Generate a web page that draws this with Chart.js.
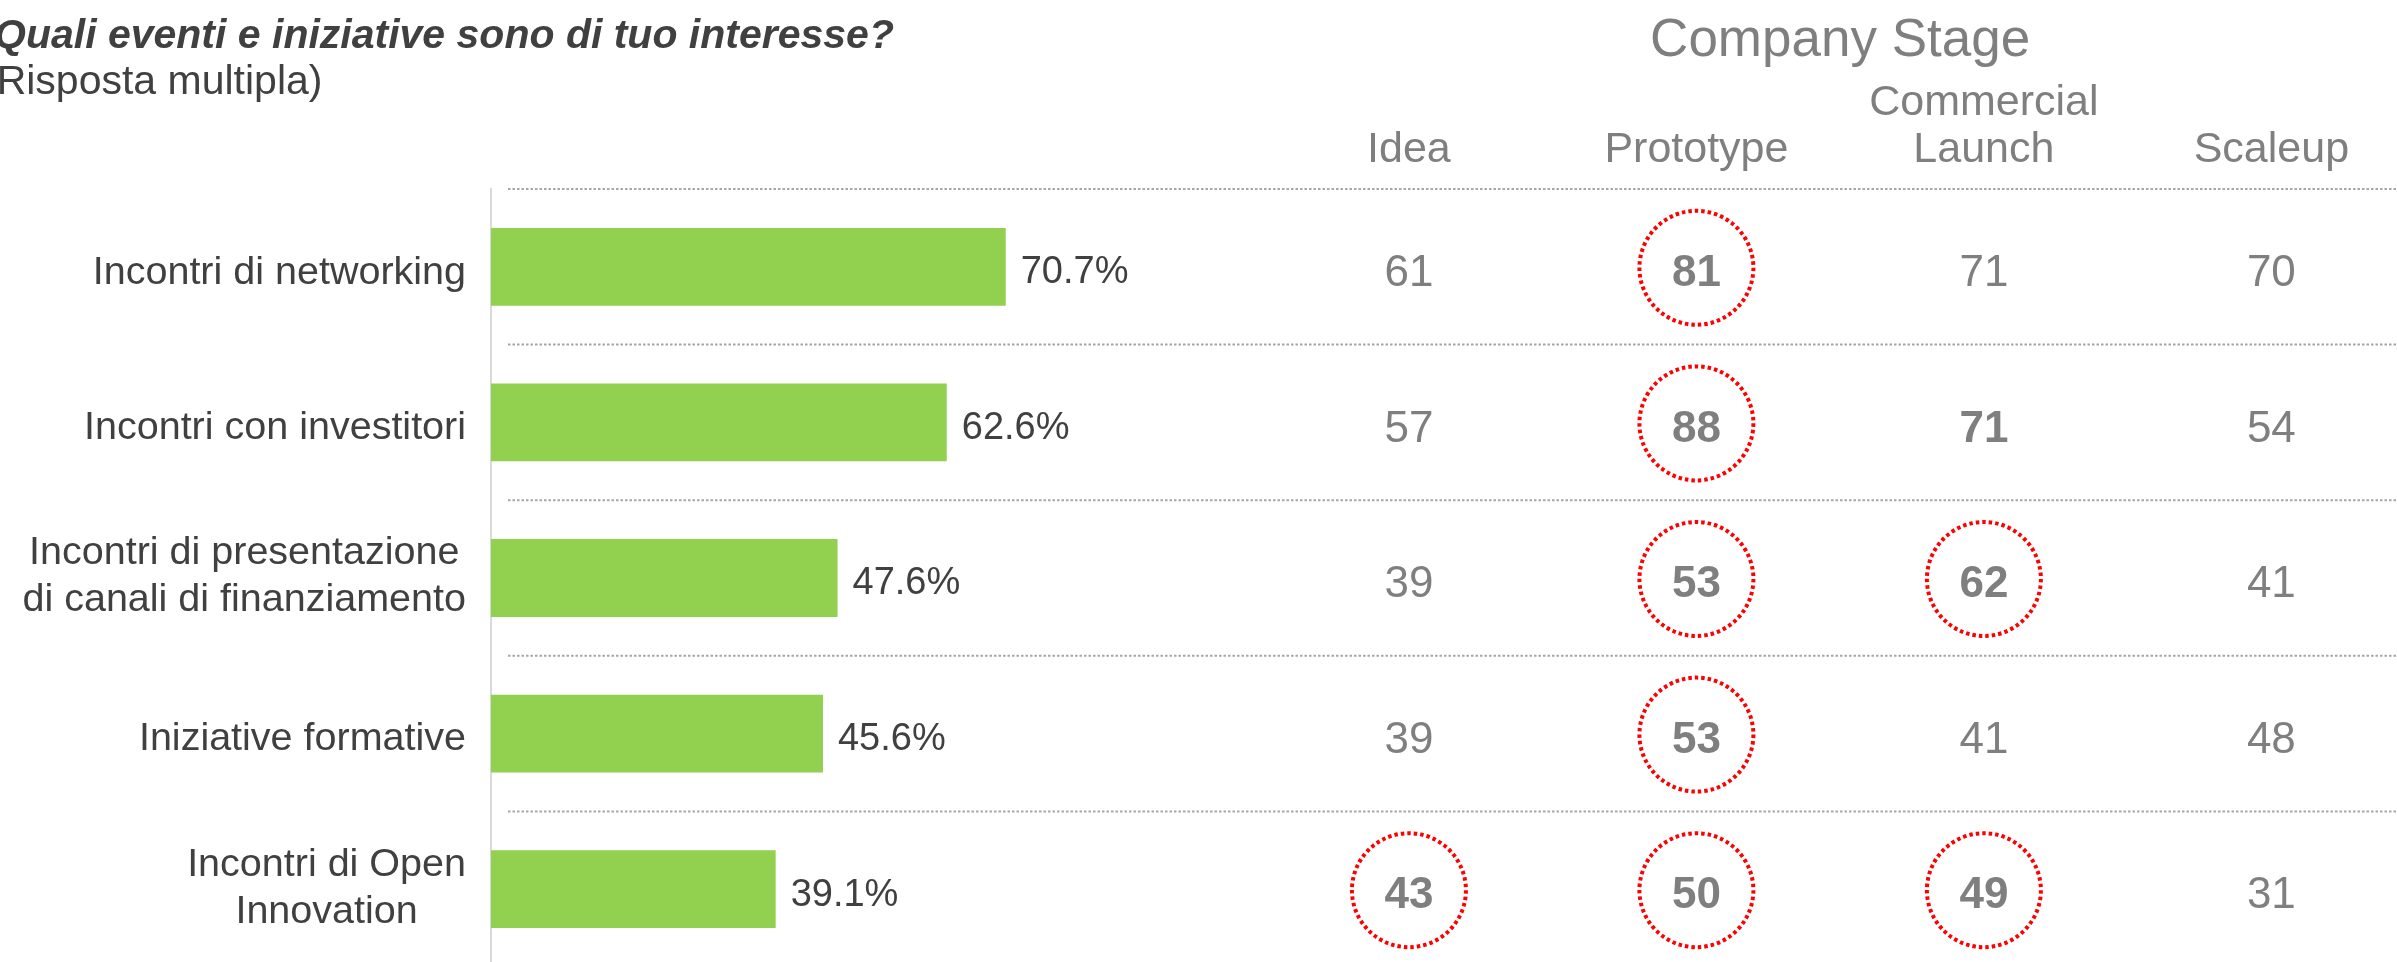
<!DOCTYPE html>
<html lang="it">
<head>
<meta charset="utf-8">
<title>Eventi e iniziative di interesse</title>
<script src="https://cdn.jsdelivr.net/npm/chart.js@4.4.1/dist/chart.umd.min.js"></script>
<style>
  html, body { margin: 0; padding: 0; background: #fff; overflow: hidden; }
  #chart { display: block; }
</style>
</head>
<body>
<canvas id="chart" width="2397" height="967"></canvas>
<script>
// --- data ---
const categories = [
  ["Incontri di networking"],
  ["Incontri con investitori"],
  ["Incontri di presentazione", "di canali di finanziamento"],
  ["Iniziative formative"],
  ["Incontri di Open", "Innovation"],
];
const shares = [70.7, 62.6, 47.6, 45.6, 39.1];

const stages = ["Idea", "Prototype", ["Commercial", "Launch"], "Scaleup"];
const idea = [61, 57, 39, 39, 43];
const prototype = [81, 88, 53, 53, 50];
const commercial = [71, 71, 62, 41, 49];
const scaleup = [70, 54, 41, 48, 31];
const stageValues = [idea, prototype, commercial, scaleup];

// [row, column] cells circled in red, and the one only set in bold
const circled = [[0, 1], [1, 1], [2, 1], [2, 2], [3, 1], [4, 0], [4, 1], [4, 2]];
const boldOnly = [[1, 2]];

const title = "Quali eventi e iniziative sono di tuo interesse?";
const subtitle = "(Risposta multipla)";
const stageTitle = "Company Stage";

const FONT = "'Liberation Sans', Arial, sans-serif";
const DARK = "#404040";
const GREY = "#7f7f7f";
Chart.defaults.font.family = FONT;

const font = (size, weight = "normal", style = "normal") => `${style} ${weight} ${size}px ${FONT}`;
const has = (list, r, c) => list.some(([a, b]) => a === r && b === c);

const tablePlugin = {
  id: "stageTable",
  beforeDatasetsDraw(chart) {
    const { ctx, chartArea, scales: { y } } = chart;
    const band = y.getPixelForValue(1) - y.getPixelForValue(0);
    ctx.save();
    ctx.strokeStyle = "#a6a6a6";
    ctx.lineWidth = 2;
    ctx.setLineDash([2.5, 2]);
    for (let i = 0; i <= categories.length; i++) {
      const py = y.getPixelForValue(i) - band / 2;
      ctx.beginPath();
      ctx.moveTo(chartArea.left + 17, py);
      ctx.lineTo(chart.width, py);
      ctx.stroke();
    }
    ctx.restore();
  },
  afterDatasetsDraw(chart) {
    const { ctx, chartArea, scales: { y, stage } } = chart;
    ctx.save();

    // header texts
    ctx.fillStyle = DARK;
    ctx.textAlign = "left";
    ctx.textBaseline = "alphabetic";
    ctx.font = font(41, "bold", "italic");
    ctx.fillText(title, -6, 48);
    ctx.font = font(41);
    ctx.fillText(subtitle, -17, 94);

    ctx.fillStyle = GREY;
    ctx.textAlign = "center";
    ctx.font = font(53);
    const mid = (stage.getPixelForValue(0) + stage.getPixelForValue(stageValues.length - 1)) / 2;
    ctx.fillText(stageTitle, mid, 56);

    // category labels: lines centred, block right aligned to the axis
    ctx.fillStyle = DARK;
    ctx.textBaseline = "middle";
    ctx.font = font(39.5);
    categories.forEach((lines, i) => {
      const cy = y.getPixelForValue(i) + (lines.length > 1 ? -1 : 6);
      const w = Math.max(...lines.map((l) => ctx.measureText(l).width));
      const cx = chartArea.left - 25 - w / 2;
      lines.forEach((l, k) => ctx.fillText(l, cx, cy + (k - (lines.length - 1) / 2) * 47));
    });

    // percentage at the end of each bar
    ctx.textAlign = "left";
    ctx.font = font(38);
    chart.getDatasetMeta(0).data.forEach((bar, i) => {
      ctx.fillText(shares[i].toFixed(1) + "%", bar.x + 15, bar.y + 6);
    });

    // stage table
    ctx.textAlign = "center";
    ctx.fillStyle = GREY;
    stageValues.forEach((col, c) => {
      col.forEach((v, r) => {
        const strong = has(circled, r, c) || has(boldOnly, r, c);
        ctx.font = font(44, strong ? "bold" : "normal");
        ctx.fillText(String(v), stage.getPixelForValue(c), y.getPixelForValue(r) + 7);
      });
    });

    ctx.strokeStyle = "#ff0000";
    ctx.lineWidth = 4;
    ctx.setLineDash([3.5, 3]);
    circled.forEach(([r, c]) => {
      ctx.beginPath();
      ctx.ellipse(stage.getPixelForValue(c), y.getPixelForValue(r) + 1, 57, 57, 0, 0, Math.PI * 2);
      ctx.stroke();
    });

    ctx.restore();
  },
};

new Chart(document.getElementById("chart"), {
  type: "bar",
  data: {
    labels: categories,
    datasets: [{
      data: shares,
      xAxisID: "x",
      yAxisID: "y",
      backgroundColor: "#92d050",
      borderWidth: 0,
      categoryPercentage: 1,
      barPercentage: 0.5,
    }],
  },
  options: {
    indexAxis: "y",
    responsive: false,
    animation: false,
    layout: { padding: 0 },
    plugins: { legend: { display: false }, tooltip: { enabled: false } },
    scales: {
      x: { type: "linear", display: false, min: 0, max: 261.8 },
      stage: {
        type: "linear",
        axis: "x",
        position: "top",
        min: -3.193,
        max: 3.437,
        grid: { display: false, drawTicks: false },
        border: { display: false },
        afterBuildTicks: (s) => { s.ticks = stages.map((_, i) => ({ value: i })); },
        afterFit: (s) => { s.height = 189; },
        ticks: {
          autoSkip: false,
          maxRotation: 0,
          padding: 15,
          color: GREY,
          font: { size: 43, lineHeight: 1.1 },
          callback: (v) => stages[v],
        },
      },
      y: {
        type: "category",
        grid: { display: false, drawTicks: false },
        border: { display: true, color: "#d9d9d9", width: 2 },
        ticks: { display: false },
        afterFit: (s) => { s.width = 491; },
      },
    },
  },
  plugins: [tablePlugin],
});
</script>
</body>
</html>
